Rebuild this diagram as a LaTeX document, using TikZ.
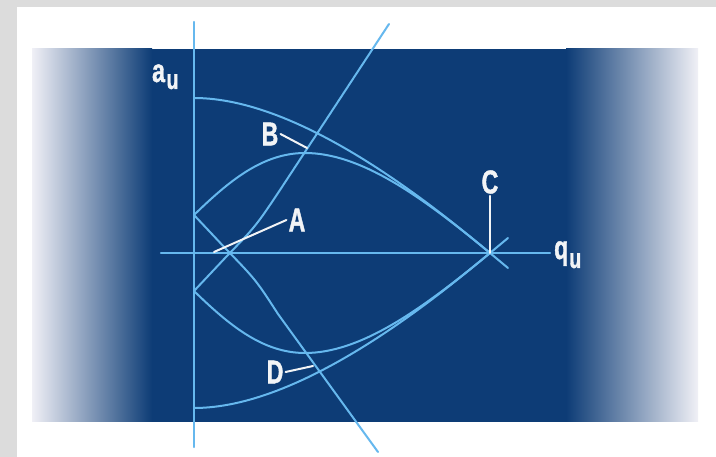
\documentclass[tikz,border=0pt]{standalone}
\usepackage{fontspec}
\newfontfamily\lblfont[FakeStretch=0.70,FakeBold=1.2]{Liberation Sans}
\definecolor{framegray}{HTML}{DCDCDC}
\definecolor{navy}{HTML}{0D3C76}
\definecolor{edgecol}{HTML}{F0F0F6}
\definecolor{midcol}{HTML}{8A8CBC}
\definecolor{linecol}{HTML}{66B8EE}
\definecolor{leadcol}{HTML}{F2F4F6}
\newcommand{\subsz}{\fontsize{28}{28}\selectfont}
\begin{document}
\begin{tikzpicture}[x=1pt,y=-1pt,line cap=round,
  curve/.style={draw=linecol,line width=2pt},
  axisline/.style={draw=linecol,line width=2.4pt},
  lead/.style={draw=leadcol,line width=2pt},
  lbl/.style={text=leadcol,font=\lblfont\bfseries\fontsize{33}{33}\selectfont,inner sep=2pt}]
\useasboundingbox (0,0) rectangle (716,457);
% background
\fill[framegray] (0,0) rectangle (716,457);
\fill[white] (17,7) rectangle (716,457);
\fill[navy] (150,49) rectangle (568,422);
\shade[left color=edgecol,middle color=midcol,right color=navy] (32,49) rectangle (152,422);
\shade[left color=navy,middle color=midcol,right color=edgecol] (566,49) rectangle (698,422);
% key points
\coordinate (C) at (490,253);
\coordinate (Bp) at (307,148);
\coordinate (Ap) at (214,252);
\coordinate (Dp) at (313,366);
% axes
\draw[axisline] (194,22) -- (194,447);
\draw[axisline] (161,253) -- (550,253);
% stability curves
\draw[curve] (194,98) .. controls (300,98) and (430,203) .. (C) -- (508,268);
\draw[curve] (194,215) .. controls (228,182) and (262,153) .. (305,153) .. controls (360,153) and (420,195) .. (C);
\draw[curve] (194,408) .. controls (300,408) and (430,303) .. (C) -- (508,238);
\draw[curve] (194,291) .. controls (228,324) and (262,353) .. (305,353) .. controls (360,353) and (420,311) .. (C);
% scan lines
\draw[curve] (194,291) -- (226,257) .. controls (256,226) .. (280,190) -- (389,24);
\draw[curve] (194,215) -- (226,249) .. controls (256,280) .. (278,314) -- (378,452);
% labels
\node[lbl] (Bl) at (270,134) {B};
\node[lbl] (Al) at (297,220) {A};
\node[lbl] (Cl) at (490,182) {C};
\node[lbl] (Dl) at (275,372) {D};
\draw[lead] (Bl.east) -- (Bp);
\draw[lead] (Al.west) -- (Ap);
\draw[lead] (Cl.south) -- (C);
\draw[lead] (Dl.east) -- (Dp);
\node[lbl,anchor=base west,inner sep=0pt] (au) at (152,82) {a\kern1.5pt\raisebox{-7pt}{\subsz u}};
\node[lbl,anchor=base west,inner sep=0pt] (qu) at (554,259) {q\kern1pt\raisebox{-9pt}{\subsz u}};
\end{tikzpicture}
\end{document}
